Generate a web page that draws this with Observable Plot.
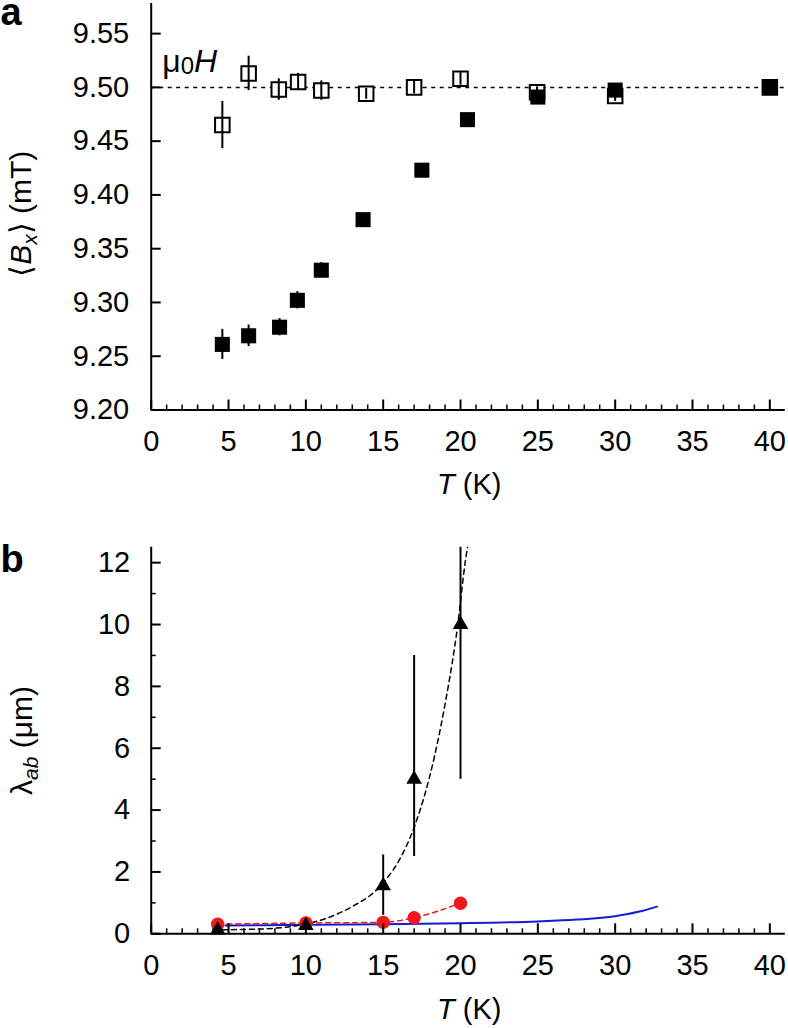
<!DOCTYPE html>
<html><head><meta charset="utf-8">
<script src="https://cdn.jsdelivr.net/npm/d3@7"></script>
<script src="https://cdn.jsdelivr.net/npm/@observablehq/plot@0.6"></script>
<style>
body{margin:0;background:#fff;}
#chart{width:788px;}
#chart svg{display:block;}
</style></head><body><div id="chart"></div>
<script>
const FONT = "'Liberation Sans', Arial, Helvetica, sans-serif";

// ---- ticks ----
const xTicks = [0, 5, 10, 15, 20, 25, 30, 35, 40];
const xMinor = d3.range(0, 41).filter(d => d % 5 !== 0);
const aYTicks = [9.20, 9.25, 9.30, 9.35, 9.40, 9.45, 9.50, 9.55];
const bYTicks = [0, 2, 4, 6, 8, 10, 12];
const bYMinor = [1, 3, 5, 7, 9, 11];

// ---- panel a: <Bx> vs T ----
const aField = 9.50; // mu0 H
const aT_open   = [4.6, 6.3, 8.25, 9.5, 11.0, 13.9, 17.0, 20.0, 24.95, 30.0, 40.0];
const aB_open   = [9.465, 9.513, 9.498, 9.505, 9.497, 9.494, 9.500, 9.508, 9.4955, 9.492, 9.500];
const aE_open   = [0.022, 0.016, 0.010, 0.008, 0.009, 0.005, 0.006, 0.006, 0.005, 0.005, 0.004];
const aT_filled = [4.6, 6.3, 8.3, 9.45, 11.0, 13.7, 17.5, 20.45, 25.0, 30.0, 40.0];
const aB_filled = [9.261, 9.269, 9.277, 9.302, 9.330, 9.377, 9.423, 9.470, 9.491, 9.4975, 9.500];
const aE_filled = [0.014, 0.010, 0.008, 0.008, 0.007, 0.005, 0.005, 0.005, 0.005, 0.005, 0.004];

// ---- panel b: lambda_ab vs T ----
const bT_tri    = [4.3, 10.0, 15.0, 17.0, 20.0];
const bL_tri    = [0.12, 0.27, 1.55, 5.0, 10.0];
const bL_triLo  = [0.12, 0.27, 0.6, 2.5, 5.0];
const bL_triHi  = [0.12, 0.27, 2.55, 9.0, 15.0];
const bT_fit    = [4.6, 6.0, 8.0, 10.0, 11.8, 13.1, 14.4, 15.3, 16.0, 17.0, 18.3, 19.1, 19.8, 20.3, 20.45];
const bL_fit    = [0.13, 0.14, 0.18, 0.32, 0.59, 0.91, 1.34, 1.83, 2.35, 3.44, 5.7, 7.7, 9.9, 12.0, 12.5];
const bT_red    = [4.3, 10.0, 15.0, 17.0, 20.0];
const bL_red    = [0.31, 0.35, 0.37, 0.52, 0.99];
const bT_blue   = [4.8, 10.0, 15.0, 20.0, 25.0, 27.5, 30.0, 31.5, 32.7];
const bL_blue   = [0.27, 0.29, 0.31, 0.34, 0.40, 0.46, 0.57, 0.71, 0.88];

const W = 788, ML = 150.7, MR = 3.2;
const FW = W - ML - MR;
const RED = "#f01818", BLUE = "#1a1ad2";

// placeholders replaced with rich text after rendering
const LBL_X = "@xlab", LBL_YA = "@ylabA", LBL_YB = "@ylabB", LBL_MU = "@mulab";

// ---------- Panel a ----------
const HA = 500, MTA = 3, MBA = 90.5, FHA = HA - MTA - MBA;
const openData = aT_open.map((T, i) => ({T, B: aB_open[i], e: aE_open[i]}));
const filledData = aT_filled.map((T, i) => ({T, B: aB_filled[i], e: aE_filled[i]}));

const plotA = Plot.plot({
  width: W, height: HA, marginLeft: ML, marginRight: MR, marginTop: MTA, marginBottom: MBA,
  style: {fontFamily: FONT, fontSize: "29px", color: "#000", background: "#fff", overflow: "visible"},
  x: {domain: [0, 41], axis: null},
  y: {domain: [9.2, 9.578], axis: null},
  marks: [
    Plot.ruleY([aField], {strokeDasharray: "4,4.5", strokeWidth: 1.5}),
    Plot.dot(openData, {x: "T", y: "B", symbol: "square", r: 8.2, fill: "white", stroke: "black", strokeWidth: 2}),
    Plot.ruleX(openData, {x: "T", y1: d => d.B - d.e, y2: d => d.B + d.e, strokeWidth: 2}),
    Plot.dot(filledData, {x: "T", y: "B", symbol: "square", r: 8.5, fill: "black"}),
    Plot.ruleX(filledData, {x: "T", y1: d => d.B - d.e, y2: d => d.B + d.e, strokeWidth: 2}),
    Plot.ruleX([0], {strokeWidth: 2}),
    Plot.ruleY([9.2], {strokeWidth: 2}),
    Plot.tickY(aYTicks, {y: d => d, insetRight: FW - 10, strokeWidth: 2}),
    Plot.tickX(xTicks, {x: d => d, insetTop: FHA - 10, strokeWidth: 2}),
    Plot.tickX(xMinor, {x: d => d, insetTop: FHA - 5, strokeWidth: 1.5}),
    Plot.axisY(aYTicks, {tickSize: 0, tickPadding: 22, tickFormat: d => d.toFixed(2), fontSize: 29, label: null}),
    Plot.axisX(xTicks, {tickSize: 0, tickPadding: 20, fontSize: 29, label: null}),
    Plot.text([LBL_X], {frameAnchor: "bottom", dx: 1, dy: 83.5, lineAnchor: "bottom", fontSize: 29}),
    Plot.text([LBL_YA], {frameAnchor: "left", dx: -129.7, dy: 7, rotate: -90, textAnchor: "middle", lineAnchor: "middle", fontSize: 30}),
    Plot.text([LBL_MU], {frameAnchor: "top-left", dx: 11, dy: 68, textAnchor: "start", lineAnchor: "bottom", fontSize: 32}),
    Plot.text(["a"], {frameAnchor: "top-left", dx: -ML, dy: 21, textAnchor: "start", lineAnchor: "bottom", fontSize: 38, fontWeight: "bold"})
  ]
});

// ---------- Panel b ----------
const HB = 528, MTB = 46.7, MBB = 94.7, FHB = HB - MTB - MBB;
const triData = bT_tri.map((T, i) => ({T, L: bL_tri[i], lo: bL_triLo[i], hi: bL_triHi[i]}));
const fitData = bT_fit.map((T, i) => ({T, L: bL_fit[i]}));
const redData = bT_red.map((T, i) => ({T, L: bL_red[i]}));
const blueData = bT_blue.map((T, i) => ({T, L: bL_blue[i]}));

const plotB = Plot.plot({
  width: W, height: HB, marginLeft: ML, marginRight: MR, marginTop: MTB, marginBottom: MBB,
  style: {fontFamily: FONT, fontSize: "29px", color: "#000", background: "#fff", overflow: "visible"},
  x: {domain: [0, 41], axis: null},
  y: {domain: [0, 12.5], axis: null},
  marks: [
    Plot.line(blueData, {x: "T", y: "L", stroke: BLUE, strokeWidth: 2, curve: "monotone-x"}),
    Plot.line(fitData, {x: "T", y: "L", stroke: "black", strokeWidth: 1.5, strokeDasharray: "5,4", curve: "monotone-x", clip: true}),
    Plot.line(redData, {x: "T", y: "L", stroke: RED, strokeWidth: 1.5, strokeDasharray: "5,4", curve: "monotone-x"}),
    Plot.ruleX(triData, {x: "T", y1: "lo", y2: "hi", strokeWidth: 2, clip: true}),
    Plot.dot(redData, {x: "T", y: "L", r: 6.7, fill: RED}),
    Plot.dot(triData, {x: "T", y: "L", symbol: "triangle", r: 5.8, fill: "black"}),
    Plot.ruleX([0], {strokeWidth: 2}),
    Plot.ruleY([0], {strokeWidth: 2}),
    Plot.tickY(bYTicks, {y: d => d, insetRight: FW - 10, strokeWidth: 2}),
    Plot.tickY(bYMinor, {y: d => d, insetRight: FW - 5, strokeWidth: 1.5}),
    Plot.tickX(xTicks, {x: d => d, insetTop: FHB - 10, strokeWidth: 2}),
    Plot.tickX(xMinor, {x: d => d, insetTop: FHB - 5, strokeWidth: 1.5}),
    Plot.axisY(bYTicks, {tickSize: 0, tickPadding: 21, fontSize: 29, label: null}),
    Plot.axisX(xTicks, {tickSize: 0, tickPadding: 21, fontSize: 29, label: null}),
    Plot.text([LBL_X], {frameAnchor: "bottom", dx: 1, dy: 84.7, lineAnchor: "bottom", fontSize: 29}),
    Plot.text([LBL_YB], {frameAnchor: "left", dx: -128.7, dy: 0, rotate: -90, textAnchor: "middle", lineAnchor: "middle", fontSize: 30}),
    Plot.text(["b"], {frameAnchor: "top-left", dx: -ML, dy: 24.3, textAnchor: "start", lineAnchor: "bottom", fontSize: 38, fontWeight: "bold"})
  ]
});

const chart = document.getElementById("chart");
chart.appendChild(plotA);
chart.appendChild(plotB);

const RICH = {
  [LBL_X]: '<tspan font-style="italic">T</tspan> (K)',
  [LBL_YA]: '⟨<tspan font-style="italic">B</tspan><tspan font-style="italic" font-size="21" dy="6">x</tspan><tspan dy="-6">⟩ (mT)</tspan>',
  [LBL_MU]: 'μ<tspan font-size="24" dy="2">0</tspan><tspan font-style="italic" dy="-2">H</tspan>',
  [LBL_YB]: 'λ<tspan font-style="italic" font-size="21" dy="6">ab</tspan><tspan dy="-6"> (μm)</tspan>'
};
[plotA, plotB].forEach(svg => {
  svg.querySelectorAll("text").forEach(t => {
    const k = t.textContent.trim();
    if (RICH[k]) t.innerHTML = RICH[k];
  });
});
</script>
</body></html>
